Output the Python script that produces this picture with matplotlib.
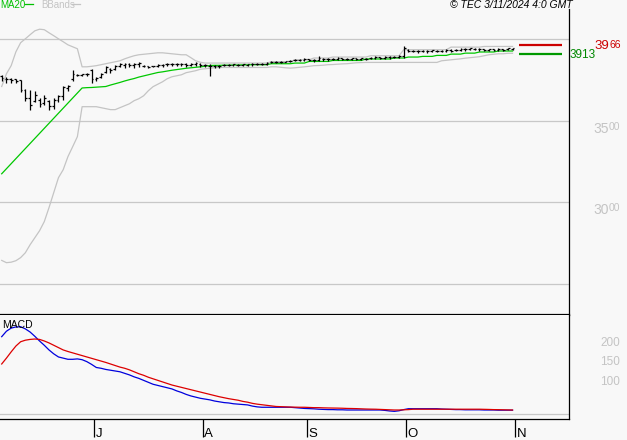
import numpy as np
import pandas as pd
import matplotlib
matplotlib.use("Agg")
import matplotlib.pyplot as plt

plt.rcParams['font.family'] = ['Liberation Sans', 'DejaVu Sans']

# ---------------- data ----------------
dates = pd.bdate_range('2024-06-03', '2024-10-31')
month_starts = ['2024-07-01', '2024-08-01', '2024-09-01', '2024-10-01', '2024-11-01']
month_labels = ['J', 'A', 'S', 'O', 'N']

opens = [3775, 3760, 3758, 3755, 3748, 3690, 3640, 3620, 3630, 3610,
         3620, 3590, 3630, 3650, 3700, 3760, 3783, 3783, 3785, 3810,
         3755, 3770, 3800, 3820, 3820, 3840, 3845, 3848, 3845, 3850,
         3840, 3835, 3836, 3838, 3842, 3848, 3848, 3850, 3848, 3850,
         3846, 3850, 3852, 3845, 3840, 3835, 3838, 3843, 3845, 3845,
         3846, 3845, 3846, 3848, 3850, 3850, 3852, 3860, 3862, 3863,
         3864, 3865, 3872, 3875, 3875, 3878, 3875, 3875, 3880, 3878,
         3880, 3882, 3884, 3882, 3882, 3884, 3882, 3880, 3885, 3888,
         3890, 3888, 3892, 3892, 3895, 3900, 3935, 3930, 3930, 3928,
         3930, 3930, 3932, 3930, 3932, 3935, 3935, 3938, 3942, 3940,
         3944, 3943, 3940, 3937, 3940, 3938, 3942, 3940, 3944]
highs = [3783, 3771, 3765, 3759, 3753, 3697, 3691, 3685, 3642, 3660,
         3630, 3642, 3660, 3716, 3722, 3814, 3789, 3789, 3796, 3820,
         3771, 3796, 3839, 3826, 3845, 3857, 3857, 3857, 3857, 3863,
         3845, 3839, 3839, 3851, 3851, 3857, 3857, 3857, 3857, 3857,
         3857, 3863, 3857, 3851, 3851, 3845, 3845, 3851, 3851, 3851,
         3851, 3851, 3851, 3857, 3857, 3857, 3863, 3869, 3869, 3869,
         3869, 3875, 3881, 3881, 3888, 3881, 3881, 3900, 3888, 3888,
         3888, 3894, 3888, 3888, 3888, 3888, 3888, 3885, 3894, 3900,
         3894, 3900, 3900, 3900, 3906, 3961, 3943, 3937, 3937, 3937,
         3937, 3937, 3937, 3937, 3943, 3943, 3943, 3949, 3949, 3949,
         3949, 3949, 3943, 3943, 3943, 3949, 3943, 3949, 3949]
lows = [3746, 3734, 3734, 3734, 3679, 3624, 3568, 3617, 3587, 3599,
        3568, 3575, 3617, 3630, 3685, 3746, 3777, 3777, 3777, 3734,
        3746, 3765, 3796, 3796, 3814, 3833, 3826, 3833, 3826, 3833,
        3833, 3826, 3833, 3833, 3833, 3839, 3839, 3839, 3839, 3833,
        3839, 3839, 3833, 3833, 3777, 3826, 3826, 3839, 3839, 3839,
        3839, 3839, 3839, 3839, 3845, 3845, 3845, 3857, 3857, 3857,
        3860, 3863, 3869, 3869, 3869, 3869, 3863, 3869, 3869, 3869,
        3875, 3875, 3875, 3875, 3875, 3875, 3875, 3875, 3881, 3881,
        3881, 3881, 3881, 3888, 3888, 3888, 3924, 3924, 3918, 3924,
        3918, 3924, 3924, 3924, 3924, 3924, 3931, 3931, 3931, 3937,
        3937, 3931, 3931, 3931, 3931, 3931, 3931, 3937, 3937]
closes = [3765, 3755, 3752, 3745, 3690, 3640, 3600, 3660, 3605, 3640,
          3590, 3630, 3650, 3705, 3715, 3790, 3783, 3785, 3790, 3755,
          3765, 3790, 3830, 3810, 3840, 3850, 3850, 3845, 3850, 3855,
          3838, 3832, 3836, 3845, 3845, 3850, 3849, 3848, 3850, 3845,
          3850, 3856, 3845, 3842, 3835, 3838, 3840, 3846, 3845, 3847,
          3845, 3848, 3848, 3850, 3850, 3852, 3855, 3863, 3863, 3864,
          3865, 3870, 3876, 3874, 3880, 3875, 3872, 3885, 3878, 3880,
          3882, 3885, 3882, 3883, 3884, 3882, 3884, 3882, 3888, 3892,
          3888, 3894, 3890, 3895, 3900, 3945, 3930, 3932, 3928, 3932,
          3930, 3933, 3930, 3932, 3937, 3932, 3938, 3943, 3940, 3945,
          3943, 3940, 3938, 3940, 3938, 3944, 3938, 3945, 3946]

ma20 = [3175, 3206, 3237, 3268, 3299, 3330, 3361, 3392, 3423, 3454,
        3485, 3516, 3547, 3578, 3609, 3640, 3671, 3702, 3704, 3705,
        3707, 3709, 3711, 3720, 3728, 3736, 3745, 3753, 3760, 3769,
        3776, 3783, 3790, 3797, 3801, 3806, 3811, 3815, 3819, 3823,
        3826, 3829, 3832, 3835, 3840, 3841, 3841, 3842, 3842, 3843,
        3843, 3844, 3844, 3845, 3845, 3845, 3845, 3851, 3851, 3851,
        3851, 3851, 3855, 3855, 3855, 3865, 3865, 3865, 3865, 3865,
        3871, 3871, 3871, 3871, 3871, 3871, 3871, 3880, 3880, 3880,
        3880, 3880, 3880, 3886, 3886, 3886, 3892, 3892, 3892, 3896,
        3896, 3896, 3902, 3902, 3902, 3910, 3910, 3910, 3916, 3916,
        3916, 3923, 3923, 3923, 3923, 3929, 3929, 3929, 3929]
bb_upper = [3711, 3789, 3839, 3924, 3980, 4004, 4029, 4053, 4063, 4060,
            4041, 4023, 4004, 3986, 3967, 3955, 3943, 3832, 3832, 3835,
            3839, 3845, 3851, 3857, 3863, 3869, 3881, 3891, 3900, 3906,
            3909, 3912, 3915, 3918, 3918, 3915, 3912, 3909, 3906, 3906,
            3888, 3869, 3860, 3855, 3855, 3855, 3855, 3855, 3855, 3855,
            3855, 3855, 3855, 3855, 3855, 3855, 3855, 3863, 3863, 3863,
            3863, 3863, 3875, 3875, 3875, 3875, 3886, 3886, 3886, 3886,
            3892, 3892, 3892, 3892, 3892, 3892, 3892, 3892, 3900, 3900,
            3900, 3900, 3900, 3900, 3900, 3937, 3937, 3937, 3937, 3937,
            3937, 3937, 3937, 3937, 3937, 3953, 3953, 3953, 3953, 3953,
            3953, 3953, 3957, 3957, 3957, 3957, 3957, 3957, 3957]
bb_lower = [2643, 2629, 2632, 2641, 2660, 2690, 2739, 2782, 2825, 2881,
            2967, 3059, 3151, 3200, 3280, 3341, 3403, 3587, 3587, 3587,
            3587, 3581, 3575, 3569, 3569, 3581, 3593, 3605, 3624, 3636,
            3654, 3685, 3710, 3725, 3740, 3759, 3771, 3777, 3783, 3796,
            3802, 3808, 3817, 3820, 3823, 3826, 3828, 3828, 3828, 3828,
            3828, 3828, 3828, 3828, 3828, 3828, 3828, 3832, 3832, 3829,
            3826, 3824, 3826, 3829, 3832, 3835, 3839, 3840, 3842, 3845,
            3846, 3848, 3850, 3851, 3854, 3857, 3858, 3859, 3859, 3859,
            3859, 3859, 3859, 3859, 3859, 3859, 3859, 3859, 3859, 3859,
            3859, 3859, 3859, 3869, 3872, 3875, 3878, 3881, 3885, 3888,
            3891, 3894, 3900, 3906, 3909, 3912, 3912, 3915, 3915]

macd_line = [197, 211, 219, 222, 222.5, 217, 209, 198, 186, 175,
             163, 153, 145, 142, 139, 139, 140, 138, 133, 126,
             118, 116, 113, 111, 109, 107, 103, 99, 94, 90,
             85, 80, 75, 72, 69, 66, 63, 58, 54, 49,
             45, 42, 39, 37, 35, 32, 30, 28, 27, 25,
             24, 23, 22, 19, 17, 16, 16, 16, 16, 16,
             16, 16, 15, 14, 13, 12.5, 12, 11, 10.5, 10,
             10, 9.5, 9.5, 9, 9, 9, 9, 9, 9, 9,
             9, 8, 6.5, 5.5, 7, 10, 12.3, 12.3, 12.3, 12.3,
             12.3, 12.3, 12.3, 11.5, 11, 10.5, 10, 10, 9.5, 9.5,
             9.5, 9.5, 9, 9, 9, 8.5, 8.5, 8.5, 8.5]
signal_line = [127, 142, 158, 173, 184, 188, 190, 191, 190, 186,
               181, 175, 169, 163, 159, 155.5, 152, 148.5, 145, 141.5,
               138, 134.5, 131, 127, 123, 119, 116, 112, 107, 102,
               98, 93, 89, 85, 81, 77, 73, 70, 67, 64,
               61, 58, 55, 52, 49, 46, 43, 40.5, 38, 36,
               34, 31, 29, 26, 24, 22.5, 21, 19.5, 18, 17.5,
               17, 16.5, 16.3, 16, 16, 15.5, 15, 15, 14.5, 14.2,
               14, 13.8, 13.5, 13, 12.8, 12.5, 12, 11.5, 11.2, 11,
               10.5, 10, 9.5, 9, 9, 9.5, 10, 11, 11, 11,
               11, 11, 11, 11, 11, 11, 11, 11, 11, 11,
               11, 11, 10.7, 10.4, 10, 9.8, 9.5, 9.2, 9]

last_upper_label = 3966
last_ma_label = 3913
price_grid = [2500, 3000, 3500, 4000]
price_ticks = [3000, 3500]
macd_ticks = [100, 150, 200]

# ---------------- style ----------------
BG = '#f8f8f8'
GRID = '#c8c8c8'
LBL = '#c4c4c4'
W, H = 627, 440

fig = plt.figure(figsize=(W / 100, H / 100), dpi=100, facecolor=BG)
ax = fig.add_axes([0, 1 - 315 / H, 569 / W, (315 - 9.5) / H], facecolor=BG)
ax2 = fig.add_axes([0, 1 - 419 / H, 569 / W, (419 - 315) / H], facecolor=BG)

n = len(dates)
x = np.arange(n)
step = 4.73
xl = (-1.7 / step, (569 - 1.7) / step)

for a in (ax, ax2):
    a.set_xlim(*xl)
    for s in ('left', 'top'):
        a.spines[s].set_visible(False)
    a.spines['right'].set_color('black')
    a.spines['right'].set_linewidth(0.9)
    a.set_yticks([])

ax.spines['bottom'].set_linewidth(1.6)
ax.spines['bottom'].set_color('black')
ax.set_xticks([])
ax.set_ylim(2307.6, 4184)

for g in price_grid:
    ax.axhline(g, color=GRID, lw=0.9, zorder=1)

ax.plot(x, bb_upper, color='#c4c4c4', lw=0.9, zorder=2)
ax.plot(x, bb_lower, color='#c4c4c4', lw=0.9, zorder=2)
ax.plot(x, ma20, color='#00c800', lw=0.9, zorder=3)

o = np.array(opens); hi = np.array(highs); lo = np.array(lows); c = np.array(closes)
ax.vlines(x, lo, hi, color='black', lw=0.9, zorder=4)
ax.hlines(o, x - 0.38, x, color='black', lw=0.9, zorder=4)
ax.hlines(c, x, x + 0.38, color='black', lw=0.9, zorder=4)

# last-value markers
ax.hlines([last_upper_label], n + 0.4, n + 9.5, color='#cc0000', lw=1.6, zorder=4)
ax.hlines([last_ma_label], n + 0.4, n + 9.5, color='#009900', lw=1.6, zorder=4)


def two_part_label(axis, val, big, small, color, dy, dx, dx2, fs, fs2):
    axis.annotate(big, xy=(1, val), xycoords=('axes fraction', 'data'),
                  xytext=(dx, dy), textcoords='offset pixels', ha='left', va='top',
                  fontsize=fs, color=color, annotation_clip=False)
    axis.annotate(small, xy=(1, val), xycoords=('axes fraction', 'data'),
                  xytext=(dx2, dy), textcoords='offset pixels', ha='left', va='top',
                  fontsize=fs2, color=color, annotation_clip=False)


for t in price_ticks:
    s = str(t)
    two_part_label(ax, t, s[:2], s[2:], LBL, -1, 24, 40, 10, 7.5)

s = str(last_upper_label)
two_part_label(ax, last_upper_label, s[:2], s[2:], '#cc0000', 5, 25, 40.5, 9.5, 7.5)
ax.annotate(str(last_ma_label), xy=(1, last_ma_label), xycoords=('axes fraction', 'data'),
            xytext=(1, -1.5), textcoords='offset pixels', ha='left', va='center',
            fontsize=8.5, color='#008800', annotation_clip=False)

# ---------------- MACD panel ----------------
ax2.set_ylim(-14.1, 252.6)
ax2.spines['bottom'].set_color('black')
ax2.spines['bottom'].set_linewidth(0.9)
ax2.axhline(0, color=GRID, lw=0.9, zorder=1)
ax2.plot(x, macd_line, color='#0000dd', lw=0.9, zorder=3)
ax2.plot(x, signal_line, color='#dd0000', lw=0.9, zorder=3)
ax2.text(2 / 569, 1 - 5 / 104, 'MACD', transform=ax2.transAxes, ha='left', va='top',
         fontsize=7.5, color='black')
for t in macd_ticks:
    ax2.annotate(str(t), xy=(1, t), xycoords=('axes fraction', 'data'),
                 xytext=(31, -1), textcoords='offset pixels', ha='left', va='top',
                 fontsize=8.5, color=LBL, annotation_clip=False)

tick_pos = [np.searchsorted(dates.values, np.datetime64(m)) - 0.5 for m in month_starts]
ax2.set_xticks(tick_pos)
ax2.set_xticklabels([])
ax2.tick_params(axis='x', direction='out', length=13, width=0.9, color='black')
for p, lab in zip(tick_pos, month_labels):
    ax2.annotate(lab, xy=(p, 0), xycoords=('data', 'axes fraction'),
                 xytext=(1.5, -18), textcoords='offset pixels', ha='left', va='baseline',
                 fontsize=9.5, color='black', annotation_clip=False)

# ---------------- header ----------------
fig.text(0 / W, 1 - 0.5 / H, 'MA20', ha='left', va='top', fontsize=7, color='#00c000')
fig.add_artist(plt.Line2D([25 / W, 33 / W], [1 - 4 / H, 1 - 4 / H], color='#00c000', lw=0.9))
fig.text(41 / W, 1 - 0.5 / H, 'BBands', ha='left', va='top', fontsize=7, color='#c4c4c4')
fig.add_artist(plt.Line2D([72 / W, 80 / W], [1 - 4 / H, 1 - 4 / H], color='#c4c4c4', lw=0.9))
fig.text(573 / W, 1 - 0.5 / H, '\u00a9 TEC 3/11/2024 4:0 GMT', ha='right', va='top',
         fontsize=7.5, style='italic', color='black')

fig.savefig('out.png', dpi=100, facecolor=BG)
